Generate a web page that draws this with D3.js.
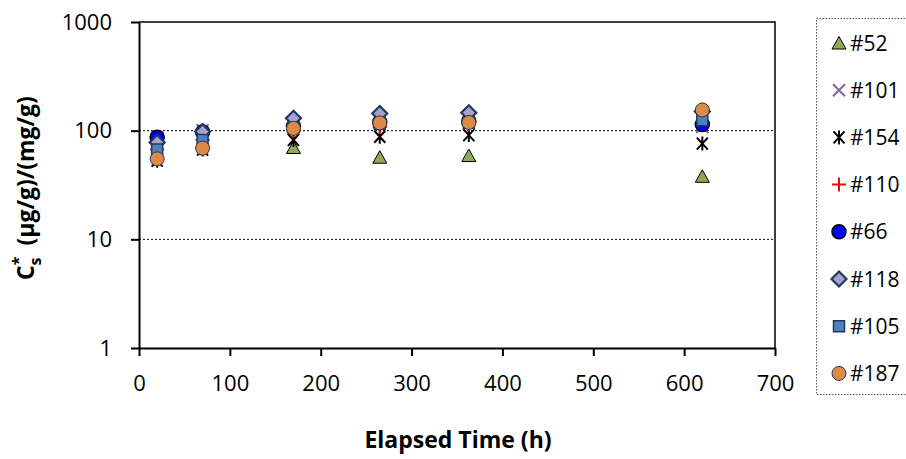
<!DOCTYPE html>
<html>
<head>
<meta charset="utf-8">
<script src="https://cdn.jsdelivr.net/npm/d3@7"></script>
<style>
  html, body { margin: 0; padding: 0; background: #fff; }
  svg { display: block; }
  text { font-family: "Open Sans", "DejaVu Sans", sans-serif; }
</style>
</head>
<body>
<svg id="chart" width="906" height="459"></svg>
<script>
// ---- data ----
const times = [20, 70, 170, 265, 363, 620];
const xTicks = [0, 100, 200, 300, 400, 500, 600, 700];
const yTicks = [1, 10, 100, 1000];
const seriesNames = ["#52", "#101", "#154", "#110", "#66", "#118", "#105", "#187"];
const s52  = [null, null, 70, 57, 59, 38];
const s101 = [86, 101, 115, 130, 130, 108];
const s154 = [53, 67, 82, 88, 91, 76];
const s110 = [67, 82, 99, 108, 114, 120];
const s66  = [87, 97, 110, 120, 122, 114];
const s118 = [78, 98, 130, 144, 146, 150];
const s105 = [67, 82, 105, 115, 118, 125];
const s187 = [55, 69, 105, 118, 119, 155];
const seriesValues = [s52, s101, s154, s110, s66, s118, s105, s187];

// ---- styles ----
const styles = {
  "#52":  { shape: "triangle", fill: "#8FAA56", stroke: "#000", sw: 1 },
  "#101": { shape: "x", fill: "none", stroke: "#8064A2", sw: 2 },
  "#154": { shape: "asterisk", fill: "none", stroke: "#000", sw: 2 },
  "#110": { shape: "plus", fill: "none", stroke: "#FF0000", sw: 2 },
  "#66":  { shape: "circle", fill: "#0000FF", stroke: "#000", sw: 1.5 },
  "#118": { shape: "diamond", fill: "#A9A1C9", stroke: "#1F3864", sw: 2.2 },
  "#105": { shape: "square", fill: "#4F81BD", stroke: "#1F3864", sw: 1.5 },
  "#187": { shape: "circle", fill: "#DE8A45", stroke: "#1F3864", sw: 1 }
};

function markerPath(shape) {
  switch (shape) {
    case "triangle": return "M0,-6.5L7,6L-7,6Z";
    case "x": return "M-6,-6L6,6M-6,6L6,-6";
    case "asterisk": return "M-5.5,-6L5.5,6M-5.5,6L5.5,-6M0,-7L0,7";
    case "plus": return "M-7,0L7,0M0,-7L0,7";
    case "circle": return d3.symbol(d3.symbolCircle, Math.PI * 49)();
    case "diamond": return "M0,-7.5L7.5,0L0,7.5L-7.5,0Z";
    case "square": return "M-5.5,-5.5L5.5,-5.5L5.5,5.5L-5.5,5.5Z";
  }
}

const svg = d3.select("#chart");
const pLeft = 139, pRight = 775, pTop = 22, pBottom = 348;

const x = d3.scaleLinear().domain([0, 700]).range([pLeft, pRight]);
const y = d3.scaleLog().domain([1, 1000]).range([pBottom, pTop]);

// gridlines
svg.append("g").selectAll("line")
  .data([10, 100]).enter().append("line")
  .attr("x1", pLeft).attr("x2", pRight)
  .attr("y1", d => y(d)).attr("y2", d => y(d))
  .attr("stroke", "#000").attr("stroke-width", 1)
  .attr("stroke-dasharray", "2,2");

// plot frame (top/right)
svg.append("path")
  .attr("d", `M${pLeft},${pTop}L${pRight},${pTop}L${pRight},${pBottom}`)
  .attr("fill", "none").attr("stroke", "#000").attr("stroke-width", 1.5);

// axes
const xAxis = svg.append("g")
  .attr("transform", `translate(0,${pBottom})`)
  .call(d3.axisBottom(x).tickValues(xTicks).tickSize(8).tickPadding(19).tickSizeOuter(0).tickFormat(d3.format("d")));
const yAxis = svg.append("g")
  .attr("transform", `translate(${pLeft},0)`)
  .call(d3.axisLeft(y).tickValues(yTicks).tickSize(8).tickPadding(19).tickSizeOuter(0).tickFormat(d3.format("d")));

[xAxis, yAxis].forEach(g => {
  g.select(".domain").attr("stroke", "#000").attr("stroke-width", 2);
  g.selectAll(".tick line").attr("stroke", "#000").attr("stroke-width", 2);
  g.selectAll(".tick text").attr("fill", "#000")
    .style("font-family", '"Open Sans", sans-serif').style("font-size", "22px");
});

// markers
seriesNames.forEach((name, i) => {
  const st = styles[name];
  const pts = times.map((t, j) => ({ t, v: seriesValues[i][j] })).filter(d => d.v != null);
  svg.append("g").selectAll("path").data(pts).enter().append("path")
    .attr("d", markerPath(st.shape))
    .attr("transform", d => `translate(${x(d.t)},${y(d.v)})`)
    .attr("fill", st.fill).attr("stroke", st.stroke).attr("stroke-width", st.sw);
});

// legend
const legend = svg.append("g");
legend.append("rect")
  .attr("x", 816.5).attr("y", 18.5).attr("width", 95).attr("height", 376)
  .attr("fill", "none").attr("stroke", "#555").attr("stroke-width", 1)
  .attr("stroke-dasharray", "1.5,1.5");
seriesNames.forEach((name, i) => {
  const st = styles[name];
  const cy = 43 + i * 47.2;
  legend.append("path")
    .attr("d", markerPath(st.shape))
    .attr("transform", `translate(839,${cy})`)
    .attr("fill", st.fill).attr("stroke", st.stroke).attr("stroke-width", st.sw);
  legend.append("text")
    .attr("x", 850).attr("y", cy).attr("dy", "0.36em")
    .style("font-size", "21px").attr("fill", "#000")
    .text(name);
});

// axis titles
svg.append("text")
  .attr("x", (pLeft + pRight) / 2 + 1).attr("y", 448)
  .attr("text-anchor", "middle")
  .style("font-size", "23px").style("font-weight", "bold")
  .text("Elapsed Time (h)");

const yt = svg.append("text")
  .attr("transform", `translate(34,188) rotate(-90)`)
  .attr("text-anchor", "middle")
  .style("font-size", "23px").style("font-weight", "bold");
yt.append("tspan").text("C");
yt.append("tspan").attr("dy", -10).style("font-size", "16px").text("*");
yt.append("tspan").attr("dx", -9).attr("dy", 17).style("font-size", "16px").text("s");
yt.append("tspan").attr("dy", -7).attr("dx", 12).text("(µg/g)/(mg/g)");
</script>
</body>
</html>
